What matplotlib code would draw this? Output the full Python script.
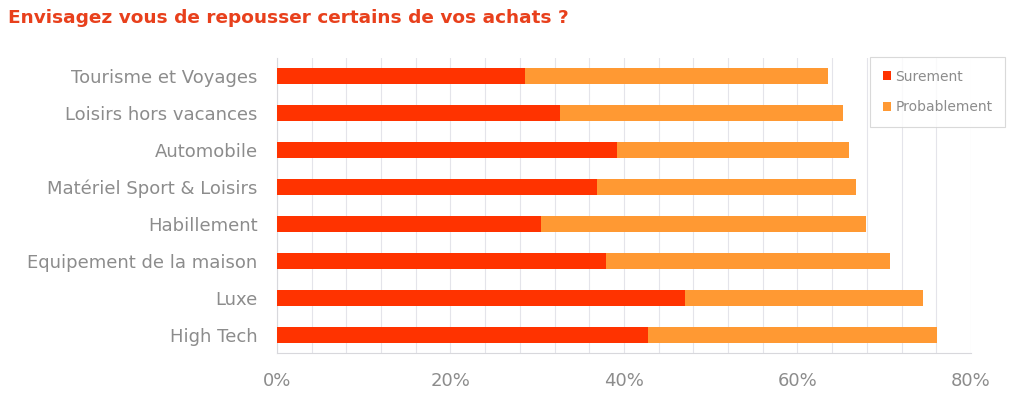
import numpy as np
import matplotlib.pyplot as plt
from matplotlib.ticker import MultipleLocator, FuncFormatter

# Survey answers, in percent (top to bottom as displayed)
categories = ['Tourisme et Voyages', 'Loisirs hors vacances', 'Automobile',
              'Matériel Sport & Loisirs', 'Habillement', 'Equipement de la maison',
              'Luxe', 'High Tech']
surement = [28.6, 32.6, 39.2, 36.9, 30.4, 37.9, 47.0, 42.8]
probablement = [34.9, 32.6, 26.7, 29.8, 37.5, 32.8, 27.5, 33.3]

RED = '#ff3300'
ORANGE = '#ff9933'
GREY_TXT = '#8c8c8c'
GRID = '#e4e4ea'

fig = plt.figure(figsize=(10.19, 3.94), dpi=100)
ax = fig.add_axes([0.2718, 0.1028, 0.6811, 0.7512])

y = np.arange(len(categories))
ax.barh(y, surement, height=0.42, color=RED, label='Surement', zorder=3)
ax.barh(y, probablement, left=surement, height=0.42, color=ORANGE,
        label='Probablement', zorder=3)

ax.set_ylim(len(categories) - 0.5, -0.5)
ax.set_yticks(y)
ax.set_yticklabels(categories, fontsize=13, color=GREY_TXT)
ax.tick_params(axis='y', length=0, pad=14)

ax.set_xlim(0, 80)
ax.xaxis.set_major_locator(MultipleLocator(20))
ax.xaxis.set_minor_locator(MultipleLocator(4))
ax.xaxis.set_major_formatter(FuncFormatter(lambda v, _: f'{v:.0f}%'))
ax.tick_params(axis='x', which='both', length=0, labelsize=13,
               labelcolor=GREY_TXT, pad=13)
ax.grid(axis='x', which='both', color=GRID, lw=0.8, zorder=0)

for side in ['top', 'right']:
    ax.spines[side].set_visible(False)
ax.spines['left'].set_color('#d8d8dc')
ax.spines['bottom'].set_color('#d8d8dc')

leg = fig.legend(loc='upper left', bbox_to_anchor=(0.854, 0.855),
                 fontsize=10, frameon=True, fancybox=False, handlelength=0.6,
                 handleheight=0.6, handletextpad=0.3, labelspacing=1.2,
                 borderpad=0.9, borderaxespad=0)
leg.get_frame().set_edgecolor('#d0d0d0')
leg.get_frame().set_linewidth(0.8)
for t in leg.get_texts():
    t.set_color(GREY_TXT)

fig.text(0.008, 0.955, 'Envisagez vous de repousser certains de vos achats ?',
         fontsize=13.3, fontweight='bold', color='#e8401c', va='center')

fig.savefig('out.png', dpi=100)
